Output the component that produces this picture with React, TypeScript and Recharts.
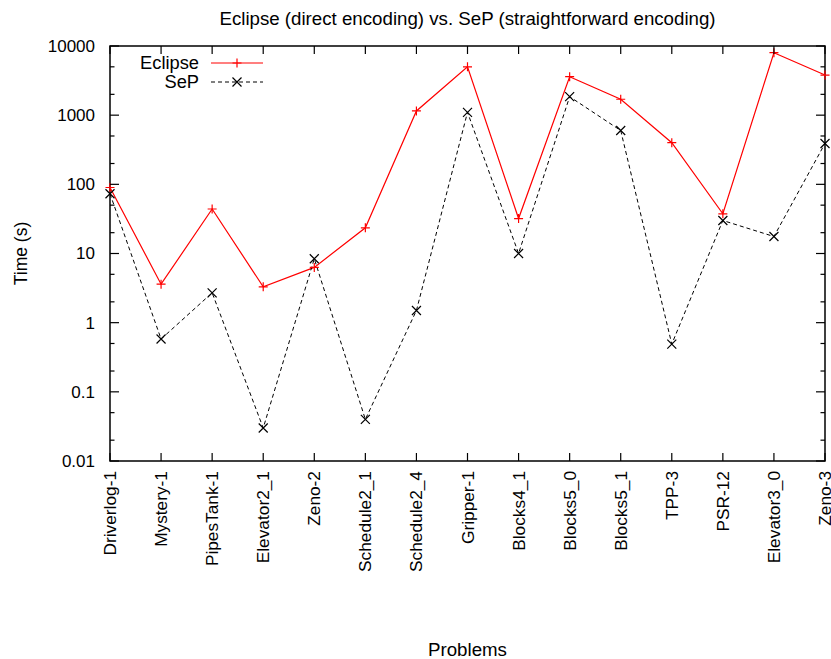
import { Label, Legend, Line, LineChart, ReferenceArea, XAxis, YAxis } from "recharts";

const problems = [
  "Driverlog-1",
  "Mystery-1",
  "PipesTank-1",
  "Elevator2_1",
  "Zeno-2",
  "Schedule2_1",
  "Schedule2_4",
  "Gripper-1",
  "Blocks4_1",
  "Blocks5_0",
  "Blocks5_1",
  "TPP-3",
  "PSR-12",
  "Elevator3_0",
  "Zeno-3",
];

const eclipseTimes = [90, 3.6, 44, 3.3, 6.3, 23.5, 1150, 5000, 32, 3600, 1700, 400, 37.5, 8000, 3800];
const sepTimes = [73, 0.58, 2.7, 0.03, 8.4, 0.04, 1.5, 1100, 10, 1850, 600, 0.49, 30, 17.6, 390];

const majorTicks = [0.01, 0.1, 1, 10, 100, 1000, 10000];
const yTicks = [
  0.01, 0.02, 0.05, 0.1, 0.2, 0.5, 1, 2, 5, 10, 20, 50, 100, 200, 500, 1000, 2000, 5000, 10000,
];

const data = problems.map((name, i) => ({
  name,
  eclipse: eclipseTimes[i],
  sep: sepTimes[i],
}));

const FONT = "'Liberation Sans', Arial, sans-serif";
const PLOT_LEFT = 110;
const PLOT_RIGHT = 825;
const PLOT_TOP = 46;
const PLOT_BOTTOM = 461;

function YTick(props: any) {
  const { y, payload } = props;
  const major = majorTicks.includes(payload.value);
  const len = major ? 9 : 4.5;
  return (
    <g>
      <line x1={PLOT_LEFT} x2={PLOT_LEFT + len} y1={y} y2={y} stroke="#000" strokeWidth={1.2} />
      <line x1={PLOT_RIGHT - len} x2={PLOT_RIGHT} y1={y} y2={y} stroke="#000" strokeWidth={1.2} />
      {major && (
        <text x={95} y={y} dy="0.35em" textAnchor="end" fontSize={17} fontFamily={FONT} fill="#000">
          {payload.value}
        </text>
      )}
    </g>
  );
}

function XTick(props: any) {
  const { x, payload } = props;
  return (
    <g>
      <line x1={x} x2={x} y1={PLOT_BOTTOM} y2={PLOT_BOTTOM - 8} stroke="#000" strokeWidth={1.2} />
      <line x1={x} x2={x} y1={PLOT_TOP} y2={PLOT_TOP + 8} stroke="#000" strokeWidth={1.2} />
      <text
        x={x}
        y={471}
        dy="0.35em"
        textAnchor="end"
        transform={`rotate(-90 ${x} 471)`}
        fontSize={17.3}
        fontFamily={FONT}
        fill="#000"
      >
        {payload.value}
      </text>
    </g>
  );
}

function PlusDot(props: any) {
  const { cx, cy, index } = props;
  const s = 4.5;
  return (
    <path
      key={`p-${index}`}
      d={`M${cx - s},${cy}H${cx + s}M${cx},${cy - s}V${cy + s}`}
      stroke="#ff0000"
      strokeWidth={1.2}
      fill="none"
    />
  );
}

function CrossDot(props: any) {
  const { cx, cy, index } = props;
  const s = 4.5;
  return (
    <path
      key={`x-${index}`}
      d={`M${cx - s},${cy - s}L${cx + s},${cy + s}M${cx - s},${cy + s}L${cx + s},${cy - s}`}
      stroke="#000"
      strokeWidth={1.2}
      fill="none"
    />
  );
}

function LegendBox() {
  return (
    <svg width={150} height={45} style={{ display: "block" }}>
      <text x={69} y={13} dy="0.35em" textAnchor="end" fontSize={18.3} fontFamily={FONT} fill="#000">
        Eclipse
      </text>
      <line x1={81} x2={133} y1={13} y2={13} stroke="#ff0000" strokeWidth={1.2} />
      <path d="M102.5,13H111.5M107,8.5V17.5" stroke="#ff0000" strokeWidth={1.2} />
      <text x={69} y={32} dy="0.35em" textAnchor="end" fontSize={18.3} fontFamily={FONT} fill="#000">
        SeP
      </text>
      <line x1={81} x2={133} y1={32} y2={32} stroke="#000" strokeWidth={1} strokeDasharray="4 3" />
      <path d="M102.5,27.5L111.5,36.5M102.5,36.5L111.5,27.5" stroke="#000" strokeWidth={1.2} />
    </svg>
  );
}

export default function App() {
  return (
    <div style={{ position: "absolute", left: 0, top: 0, width: 831, height: 659, background: "#fff" }}>
      <div
        style={{
          position: "absolute",
          left: PLOT_LEFT,
          width: PLOT_RIGHT - PLOT_LEFT,
          top: 9,
          textAlign: "center",
          fontFamily: FONT,
          fontSize: 18.7,
          lineHeight: "19px",
          color: "#000",
        }}
      >
        Eclipse (direct encoding) vs. SeP (straightforward encoding)
      </div>
      <LineChart
        width={831}
        height={659}
        data={data}
        margin={{ top: PLOT_TOP, right: 831 - PLOT_RIGHT, bottom: 0, left: 0 }}
      >
        <XAxis
          dataKey="name"
          type="category"
          height={659 - PLOT_BOTTOM}
          axisLine={false}
          tickLine={false}
          interval={0}
          tick={<XTick />}
        >
          <Label value="Problems" position="insideBottom" offset={3} fontSize={18.7} fontFamily={FONT} fill="#000" />
        </XAxis>
        <YAxis
          type="number"
          scale="log"
          domain={[0.01, 10000]}
          ticks={yTicks}
          interval={0}
          allowDataOverflow
          width={PLOT_LEFT}
          axisLine={false}
          tickLine={false}
          tick={<YTick />}
        >
          <Label
            value="Time (s)"
            angle={-90}
            position="insideLeft"
            offset={21}
            fontSize={17.5}
            fontFamily={FONT}
            fill="#000"
            style={{ textAnchor: "middle" }}
          />
        </YAxis>
        <ReferenceArea
          x1={problems[0]}
          x2={problems[problems.length - 1]}
          y1={0.01}
          y2={10000}
          fill="none"
          fillOpacity={0}
          stroke="#000"
          strokeWidth={1.5}
        />
        <Legend
          layout="vertical"
          align="center"
          verticalAlign="middle"
          content={<LegendBox />}
          wrapperStyle={{ position: "absolute", left: 130, top: 50, width: 150, height: 45 }}
        />
        <Line
          dataKey="eclipse"
          name="Eclipse"
          type="linear"
          stroke="#ff0000"
          strokeWidth={1.2}
          dot={PlusDot}
          activeDot={false}
          isAnimationActive={false}
        />
        <Line
          dataKey="sep"
          name="SeP"
          type="linear"
          stroke="#000"
          strokeWidth={1}
          strokeDasharray="4 3"
          dot={CrossDot}
          activeDot={false}
          isAnimationActive={false}
        />
      </LineChart>
    </div>
  );
}
